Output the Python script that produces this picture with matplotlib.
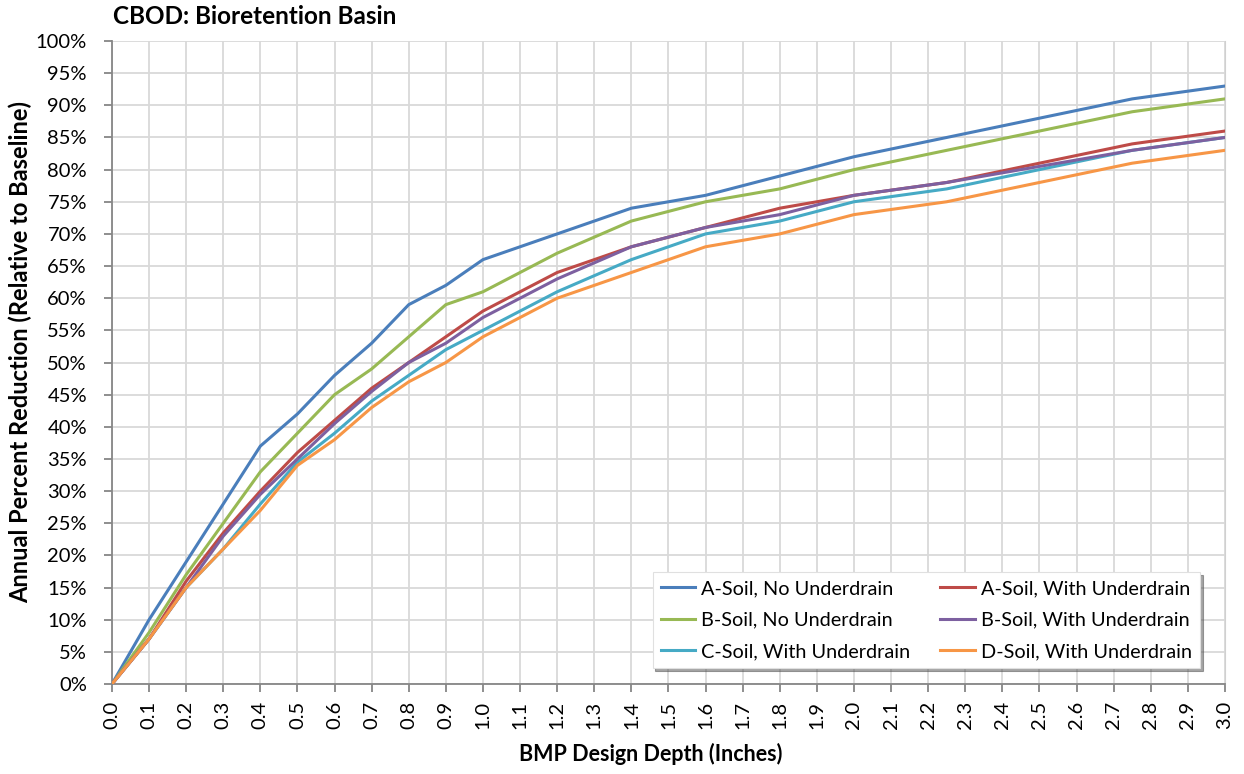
import numpy as np
import matplotlib.pyplot as plt
from matplotlib.ticker import MultipleLocator, FuncFormatter

plt.rcParams['font.family'] = ['Lato', 'DejaVu Sans']

# ---------- data ----------
depth = [0.0, 0.1, 0.2, 0.3, 0.4, 0.5, 0.6, 0.7, 0.8, 0.9, 1.0,
         1.2, 1.4, 1.6, 1.8, 2.0, 2.25, 2.5, 2.75, 3.0]

a_no_ud = [0, 10, 19, 28, 37, 42, 48, 53, 59, 62, 66, 70, 74, 76, 79, 82, 85, 88, 91, 93]
b_no_ud = [0, 8, 17, 25, 33, 39, 45, 49, 54, 59, 61, 67, 72, 75, 77, 80, 83, 86, 89, 91]
c_with_ud = [0, 7, 15, 21, 28, 34.5, 39, 44, 48, 52, 55, 61, 66, 70, 72, 75, 77, 80, 83, 85]
a_with_ud = [0, 7, 16, 23.5, 30, 36, 41, 46, 50, 54, 58, 64, 68, 71, 74, 76, 78, 81, 84, 86]
b_with_ud = [0, 7, 15, 23, 29.5, 35, 40.5, 45.5, 50, 53, 57, 63, 68, 71, 73, 76, 78, 80.5, 83, 85]
d_with_ud = [0, 7, 15, 21, 27, 34, 38, 43, 47, 50, 54, 60, 64, 68, 70, 73, 75, 78, 81, 83]

series = [
    ('A-Soil, No Underdrain', a_no_ud, '#4A7EBB'),
    ('B-Soil, No Underdrain', b_no_ud, '#98B954'),
    ('C-Soil, With Underdrain', c_with_ud, '#46AAC5'),
    ('A-Soil, With Underdrain', a_with_ud, '#BE4B48'),
    ('B-Soil, With Underdrain', b_with_ud, '#7D60A0'),
    ('D-Soil, With Underdrain', d_with_ud, '#F79646'),
]
# drawing order so lower lines sit on top like the original
draw_order = [0, 1, 3, 4, 2, 5]

# ---------- plot ----------
fig = plt.figure(figsize=(12.44, 7.74), dpi=100)
ax = fig.add_axes([0.0900, 0.1163, 0.8947, 0.8307])

lines = {}
for i in draw_order:
    name, vals, col = series[i]
    lines[i], = ax.plot(depth, vals, color=col, lw=2.2, label=name,
                        solid_joinstyle='round', zorder=3 + i * 0.01)

ax.set_xlim(0, 3.0)
ax.set_ylim(0, 100)
ax.xaxis.set_major_locator(MultipleLocator(0.1))
ax.yaxis.set_major_locator(MultipleLocator(5))
ax.xaxis.set_major_formatter(FuncFormatter(lambda v, p: f'{v:.1f}'))
ax.yaxis.set_major_formatter(FuncFormatter(lambda v, p: f'{v:.0f}%'))

ax.grid(True, color='#D9D9D9', lw=1.3, zorder=0)
ax.set_axisbelow(True)
ax.spines['top'].set_visible(False)
ax.spines['right'].set_color('#D0D0D0')
for s in ['left', 'bottom']:
    ax.spines[s].set_color('#868686')
    ax.spines[s].set_linewidth(1.3)

ax.tick_params(axis='both', direction='out', length=6, width=1.3,
               color='#868686', labelsize=14.5, labelcolor='black')
ax.tick_params(axis='x', labelrotation=90, pad=6)
ax.tick_params(axis='y', pad=12)

fig.text(651 / 1244, 1 - 754 / 774, 'BMP Design Depth (Inches)', fontsize=15.5,
         fontweight='bold', ha='center', va='center')
fig.text(20 / 1244, 1 - 352 / 774, 'Annual Percent Reduction (Relative to Baseline)',
         fontsize=17, fontweight='bold', ha='center', va='center', rotation=90)
fig.text(113 / 1244, 1 - 16 / 774, 'CBOD: Bioretention Basin', fontsize=17.5,
         fontweight='bold', ha='left', va='center')

handles = [lines[i] for i in range(6)]
leg = ax.legend(handles=handles, labels=[s[0] for s in series], ncol=2,
                loc='lower right', bbox_to_anchor=(0.9775, 0.025),
                fontsize=14.3, frameon=True, fancybox=False, shadow=True,
                handlelength=1.75, handletextpad=0.3, columnspacing=1.5,
                labelspacing=0.72, borderpad=0.4, borderaxespad=0)
leg.get_frame().set_edgecolor('#E0E0E0')
leg.get_frame().set_linewidth(0.8)
for h in leg.legend_handles:
    h.set_linewidth(2.2)

fig.savefig('out.png', dpi=100)
